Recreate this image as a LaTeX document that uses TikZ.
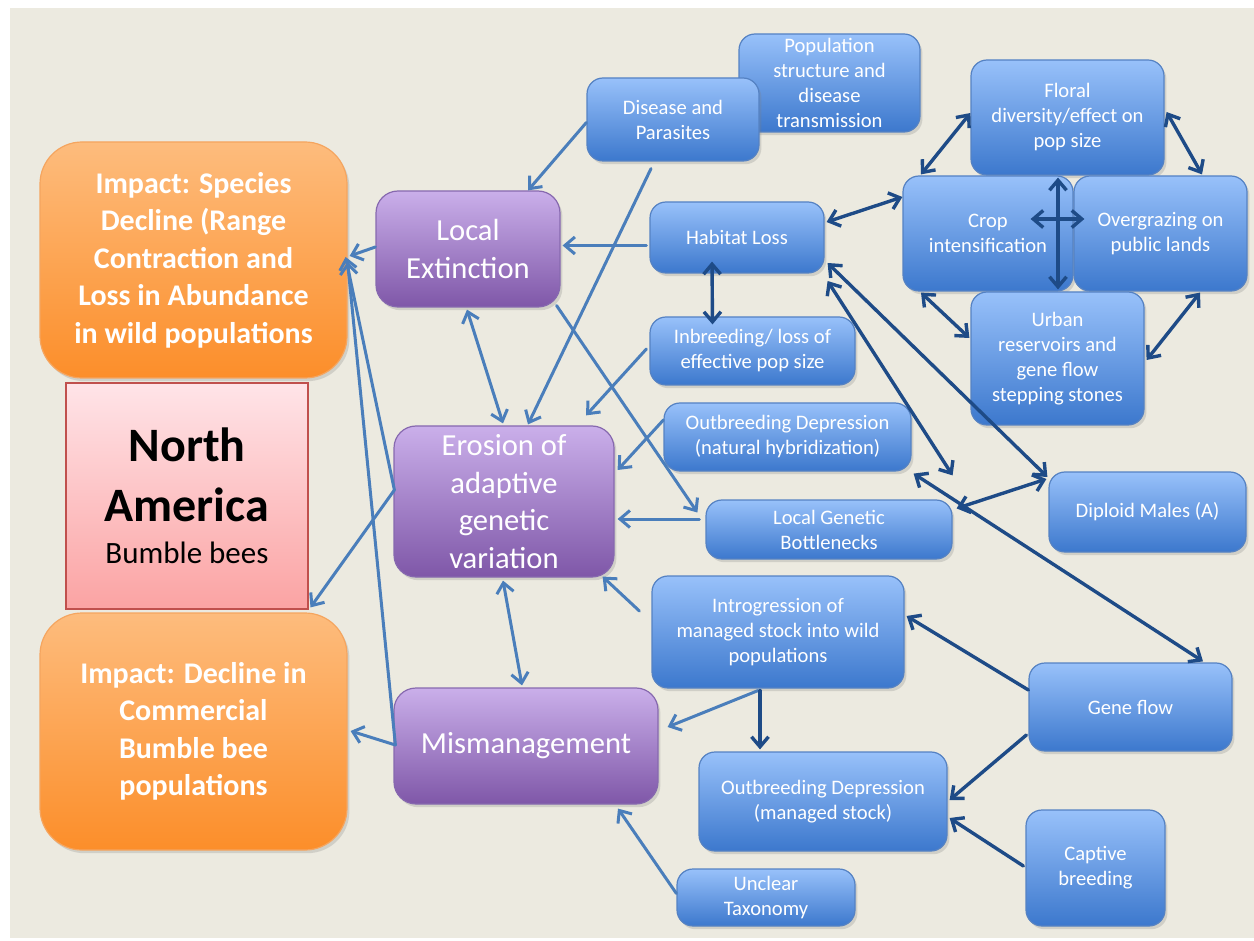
\documentclass[tikz,border=0pt]{standalone}
\usepackage{fontspec}
\setmainfont{Carlito}
\usetikzlibrary{arrows.meta,calc,shadows}

\definecolor{paper}{RGB}{236,234,224}
\definecolor{bluetop}{RGB}{152,193,250}
\definecolor{bluebot}{RGB}{60,120,205}
\definecolor{blueedge}{RGB}{85,130,195}
\definecolor{purptop}{RGB}{202,175,234}
\definecolor{purpbot}{RGB}{127,87,168}
\definecolor{purpedge}{RGB}{135,105,175}
\definecolor{orgtop}{RGB}{253,188,125}
\definecolor{orgbot}{RGB}{252,142,42}
\definecolor{orgedge}{RGB}{245,165,95}
\definecolor{pinktop}{RGB}{255,228,232}
\definecolor{pinkbot}{RGB}{251,163,163}
\definecolor{pinkedge}{RGB}{192,80,77}
\definecolor{ltline}{RGB}{74,126,187}
\definecolor{dkline}{RGB}{30,75,135}

\tikzset{
  shade box/.style={inner sep=0pt, align=center, text=white,
    drop shadow={shadow xshift=1.2pt, shadow yshift=-1.6pt, opacity=0.25}},
  bluebox/.style={shade box, rounded corners=8pt, draw=blueedge, line width=0.6pt,
    top color=bluetop, bottom color=bluebot,
    font=\fontsize{10.3}{12.5}\selectfont},
  purplebox/.style={shade box, rounded corners=11pt, draw=purpedge, line width=0.6pt,
    top color=purptop, bottom color=purpbot,
    font=\fontsize{15.3}{18.75}\selectfont},
  impactbox/.style={shade box, rounded corners=21pt, draw=orgedge, line width=0.6pt,
    top color=orgtop, bottom color=orgbot,
    font=\fontsize{15}{18.75}\selectfont\bfseries},
  regionbox/.style={inner sep=0pt, align=center, text=black, draw=pinkedge, line width=0.6pt,
    top color=pinktop, bottom color=pinkbot,
    font=\fontsize{24}{30}\selectfont\bfseries},
  lt/.style={draw=ltline, line width=1.5pt, line cap=round},
  dk/.style={draw=dkline, line width=1.7pt, line cap=round},
}

\begin{document}
\begin{tikzpicture}[x=0.5pt,y=-0.5pt,
  >={Straight Barb[length=5pt,width=8.5pt]}]
\useasboundingbox (0,0) rectangle (1254,941);
\fill[white] (0,0) rectangle (1254,941);
\fill[paper] (10,8) rectangle (1254,938);

% ---------- left column: impacts and region ----------
\node[impactbox, minimum width=153.5pt, minimum height=118pt] (impS) at (193.5,260)
  {Impact: Species\\Decline (Range\\Contraction and\\Loss in Abundance\\in wild populations};
\node[regionbox, minimum width=121pt, minimum height=113pt] (north) at (187,496)
  {North\\America\\[-9pt]{\fontsize{15.5}{18}\mdseries\selectfont Bumble bees}};
\node[impactbox, minimum width=153.5pt, minimum height=118.5pt] (impD) at (193.5,731.5)
  {Impact: Decline in\\Commercial\\Bumble bee\\populations};

% ---------- middle column: processes ----------
\node[purplebox, minimum width=92pt, minimum height=58pt] (locext) at (468,249)
  {Local\\Extinction};
\node[purplebox, minimum width=110pt, minimum height=75.5pt] (erosion) at (504,501.5)
  {Erosion of\\adaptive\\genetic\\variation};
\node[purplebox, minimum width=132pt, minimum height=58pt] (misman) at (526,746)
  {Mismanagement};

% ---------- causes ----------
\node[bluebox, minimum width=90.5pt, minimum height=49pt] (popstr) at (829.5,83)
  {Population\\structure and\\disease\\transmission};
\node[bluebox, minimum width=86pt, minimum height=41.5pt] (disease) at (673,119.5)
  {Disease and\\Parasites};
\node[bluebox, minimum width=87pt, minimum height=35.5pt] (habitat) at (737,237.5)
  {Habitat Loss};
\node[bluebox, minimum width=102.5pt, minimum height=34pt] (inbreed) at (752.5,351)
  {Inbreeding/ loss of\\effective pop size};
\node[bluebox, minimum width=123.5pt, minimum height=34pt] (outnat) at (787.5,437)
  {Outbreeding Depression\\(natural hybridization)};
\node[bluebox, minimum width=123pt, minimum height=29.5pt] (lgb) at (829,529.5)
  {Local Genetic\\Bottlenecks};
\node[bluebox, minimum width=126pt, minimum height=56pt] (introg) at (778,632)
  {Introgression of\\managed stock into wild\\populations};
\node[bluebox, minimum width=124pt, minimum height=49.5pt] (outman) at (823,801.5)
  {Outbreeding Depression\\(managed stock)};
\node[bluebox, minimum width=89pt, minimum height=28.5pt] (unclear) at (766,897.5)
  {Unclear\\Taxonomy};

% ---------- land use cluster ----------
\node[bluebox, minimum width=96.5pt, minimum height=57.5pt] (floral) at (1067.5,117.5)
  {Floral\\diversity/effect on\\pop size};
\node[bluebox, minimum width=85pt, minimum height=57.5pt] (crop) at (988,233.5)
  {Crop\\intensification};
\node[bluebox, minimum width=86.5pt, minimum height=57.5pt] (overg) at (1160.5,233.5)
  {Overgrazing on\\public lands};
\node[bluebox, minimum width=86.5pt, minimum height=66.5pt] (urban) at (1057.5,358.5)
  {Urban\\reservoirs and\\gene flow\\stepping stones};

% ---------- right column ----------
\node[bluebox, minimum width=98.5pt, minimum height=40pt] (diploid) at (1147.5,512)
  {Diploid Males (A)};
\node[bluebox, minimum width=101.5pt, minimum height=44pt] (geneflow) at (1130.5,707)
  {Gene flow};
\node[bluebox, minimum width=69.5pt, minimum height=58pt] (captive) at (1095.5,868)
  {Captive\\breeding};

% ---------- light connectors ----------
\draw[lt,->] ($(disease.west)+(0,3)$) -- ($(locext.north)+(60,0)$);
\draw[lt,->] ($(disease.south)+(-22,7)$) -- ($(erosion.north)+(24,-1)$);
\draw[lt,->] ($(habitat.west)+(-3,8)$) -- ($(locext.east)+(2,-3.5)$);
\draw[lt,<->] ($(locext.south)+(-1,2)$) -- ($(erosion.north)+(-1,-2)$);
\draw[lt,->] ($(locext.south east)+(-4,-2)$) -- ($(lgb.west)+(-8,-17)$);
\draw[lt,->] ($(inbreed.west)+(-3,-2)$) -- ($(erosion.north)+(82,-10)$);
\draw[lt,->] ($(outnat.west)+(0,-17)$) -- ($(erosion.east)+(3,-31.5)$);
\draw[lt,->] ($(lgb.west)+(-6,-10.5)$) -- ($(erosion.east)+(3,17.5)$);
\draw[lt,->] ($(introg.west)+(-12,-21)$) -- ($(erosion.south east)+(-12,-1)$);
\draw[lt,<->] ($(erosion.south)+(-1,3)$) -- ($(misman.north)+(-4,-2)$);
\draw[lt,->] ($(introg.south)+(-20,2)$) -- ($(misman.east)+(9,-19)$);
\draw[lt,->] ($(unclear.west)+(0,-4)$) -- ($(misman.south)+(92,4)$);
\draw[lt,->] ($(misman.west)+(2,-1)$) -- ($(impD.east)+(3,-0.5)$);
\draw[lt,->] ($(misman.west)+(2,-1)$) -- ($(impS.east)+(0,2)$);
\draw[lt,->] ($(erosion.west)+(1,-11.5)$) -- ($(impS.east)+(-2,-3)$);
\draw[lt,->] ($(erosion.west)+(1,-11.5)$) -- ($(impD.north)+(117,-5)$);
\draw[lt,->] ($(locext.west)+(0,-2)$) -- ($(impS.east)+(2,-4)$);

% ---------- dark connectors ----------
\draw[dk,<->] ($(habitat.east)+(2,-15.5)$) -- ($(crop.west)+(0,-36.5)$);
\draw[dk,<->] ($(habitat.south)+(-25,-12)$) -- ($(inbreed.north)+(-40,8)$);
\draw[dk,<->] ($(floral.west)+(0,-4.5)$) -- ($(crop.north)+(-67,-1)$);
\draw[dk,<->] ($(floral.east)+(2,-5.5)$) -- ($(overg.north)+(41.5,-1)$);
\draw[dk,<->] ($(crop.south)+(-67,1)$) -- ($(urban.west)+(-1,-20.5)$);
\draw[dk,<->] ($(overg.south)+(39.5,1)$) -- ($(urban.east)+(2,1.5)$);
\draw[dk,<->] ($(floral.south)+(-9.5,2)$) -- ($(urban.north)+(0.5,-2)$);
\draw[dk,<->] ($(crop.east)+(-43,-14.5)$) -- ($(overg.west)+(11,-14.5)$);
\draw[dk,<->] ($(habitat.east)+(3,25.5)$) -- ($(diploid.west)+(-1,-35)$);
\draw[dk,<->] ($(habitat.east)+(3,43.5)$) -- ($(lgb.north east)+(0,-24)$);
\draw[dk,<->] ($(diploid.west)+(-2,-33)$) -- ($(lgb.north east)+(4,9)$);
\draw[dk,<->] ($(outnat.south east)+(2,2)$) -- ($(geneflow.north)+(72.5,-1)$);
\draw[dk,->] ($(geneflow.west)+(0,-17)$) -- ($(introg.east)+(2,-16)$);
\draw[dk,->] ($(geneflow.west)+(-2,28)$) -- ($(outman.east)+(2,-1.5)$);
\draw[dk,->] ($(captive.west)+(-2,-2)$) -- ($(outman.east)+(2,16.5)$);
\draw[dk,->] ($(introg.south)+(-18,2)$) -- ($(outman.north)+(-63,-2)$);
\end{tikzpicture}
\end{document}
